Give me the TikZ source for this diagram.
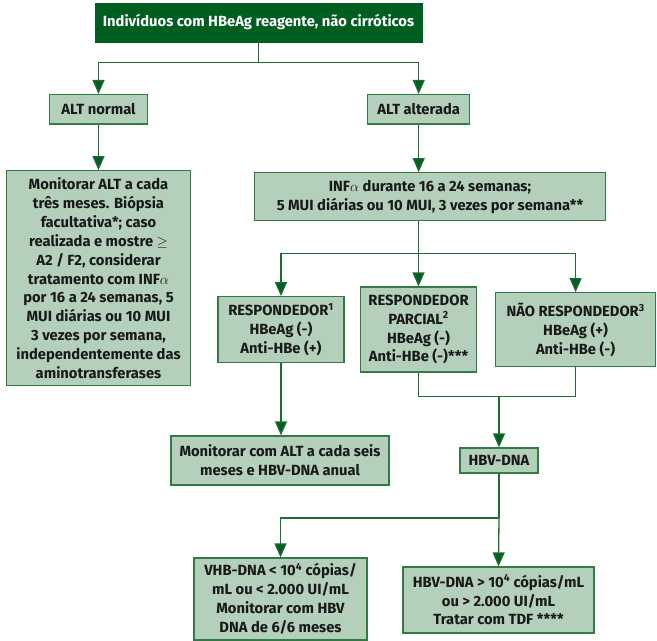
\documentclass[tikz,border=0pt]{standalone}
\usepackage{fontspec}
\setmainfont{Fira Sans}
\usetikzlibrary{arrows.meta}
\definecolor{verdeescuro}{RGB}{0,94,32}
\definecolor{verdelinha}{RGB}{28,108,52}
\definecolor{verdeborda}{RGB}{50,122,70}
\definecolor{verdeclaro}{RGB}{180,207,186}
\begin{document}
\begin{tikzpicture}[x=1bp, y=-1bp, font=\fontsize{14.8}{19}\selectfont\bfseries,
	caixa/.style={draw=verdeborda, fill=verdeclaro, line width=1.2bp, align=center, inner sep=1bp, text=black!90},
	seta/.style={draw=verdelinha, line width=1.3bp, -{Triangle[width=12bp, length=14bp, fill=verdeescuro]}},
	linha/.style={draw=verdelinha, line width=1.3bp}]
	
	\useasboundingbox (0,0) rectangle (657,641);
	
	% Topo
	\node[draw=verdeescuro, fill=verdeescuro, text=white, minimum width=327bp, minimum height=39bp, inner sep=0pt] (topo) at (258.5,22.3) {Indivíduos com HBeAg reagente, não cirróticos};
	
	% ALT
	\node[caixa, minimum width=98bp, minimum height=29.5bp] (altn) at (98.5,109.3) {ALT normal};
	\node[caixa, minimum width=102bp, minimum height=29.5bp] (alta) at (418.7,109.3) {ALT alterada};
	\coordinate (j1) at (258.5,62.3);
	\draw[linha] (topo.south) -- (j1);
	\draw[seta] (j1) -| (altn.north);
	\draw[seta] (j1) -| (alta.north);
	
	% Ramo ALT normal
	\node[caixa, minimum width=184bp, minimum height=215bp] (mon) at (98.5,278.2) {Monitorar ALT a cada\\três meses. Biópsia\\facultativa*; caso\\realizada e mostre $\geq$\\A2 / F2, considerar\\tratamento com INF$\alpha$\\por 16 a 24 semanas, 5\\MUI diárias ou 10 MUI\\3 vezes por semana,\\independentemente das\\aminotransferases};
	\draw[seta] (altn.south) -- (mon.north);
	
	% Ramo ALT alterada
	\node[caixa, minimum width=351bp, minimum height=48bp] (inf) at (430,196.7) {INF$\alpha$ durante 16 a 24 semanas;\\5 MUI diárias ou 10 MUI, 3 vezes por semana**};
	\draw[seta] (alta.south) -- (alta.south |- inf.north);
	
	% Respostas
	\node[caixa, minimum width=126bp, minimum height=65.6bp] (resp) at (281,329.5) {RESPONDEDOR\textsuperscript{1}\\HBeAg (-)\\Anti-HBe (+)};
	\node[caixa, minimum width=116.4bp, minimum height=85bp] (parc) at (418.5,329.5) {RESPONDEDOR\\PARCIAL\textsuperscript{2}\\HBeAg (-)\\Anti-HBe (-)***};
	\node[caixa, minimum width=160bp, minimum height=74bp] (nao) at (575.6,329.7) {NÃO RESPONDEDOR\textsuperscript{3}\\HBeAg (+)\\Anti-HBe (-)};
	\coordinate (j2) at (418.5,253.3);
	\draw[linha] (j2 |- inf.south) -- (j2);
	\draw[seta] (j2) -| (resp.north);
	\draw[seta] (j2) -- (parc.north);
	\draw[seta] (j2) -| (nao.north);
	
	% Seguimento
	\node[caixa, minimum width=218bp, minimum height=49bp] (monalt) at (280,460.5) {Monitorar com ALT a cada seis\\meses e HBV-DNA anual};
	\node[caixa, minimum width=78bp, minimum height=25bp] (hbv) at (499,460.5) {HBV-DNA};
	\draw[seta] (resp.south) -- (resp.south |- monalt.north);
	\coordinate (j3) at (499,396.7);
	\draw[linha] (parc.south) |- (j3) -| (nao.south);
	\draw[seta] (j3) -- (hbv.north);
	
	% HBV-DNA
	\node[caixa, minimum width=173bp, minimum height=82bp] (baixo) at (280.5,599) {VHB-DNA < 10\textsuperscript{4} cópias/\\mL ou < 2.000 UI/mL\\Monitorar com HBV\\DNA de 6/6 meses};
	\node[caixa, minimum width=191bp, minimum height=66bp] (alto) at (498.5,600) {HBV-DNA > 10\textsuperscript{4} cópias/mL\\ou > 2.000 UI/mL\\Tratar com TDF ****};
	\coordinate (j4) at (499,518);
	\draw[linha] (hbv.south) -- (j4);
	\draw[seta] (j4) -| (baixo.north);
	\draw[seta] (j4) -- (alto.north);
\end{tikzpicture}
\end{document}
